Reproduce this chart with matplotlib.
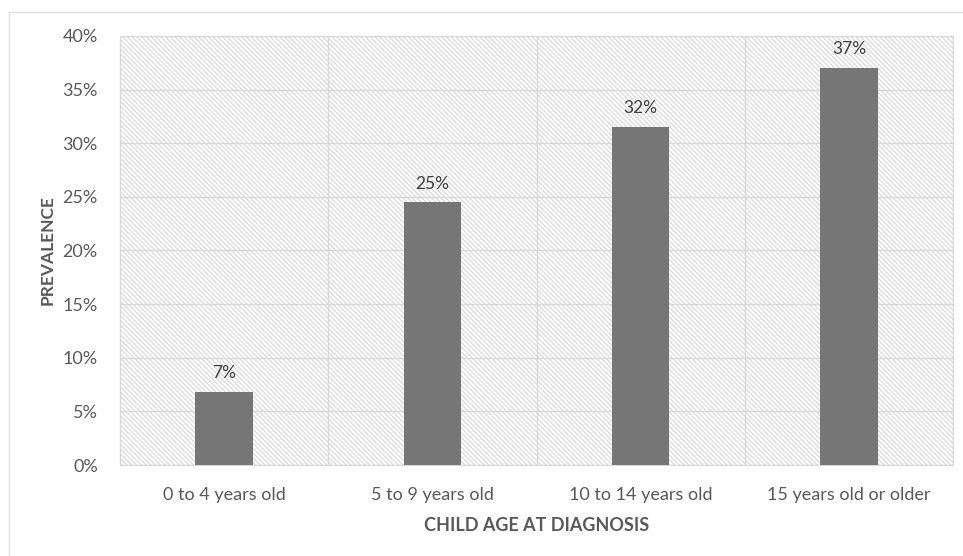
import matplotlib.pyplot as plt
from matplotlib.lines import Line2D

categories = ['0 to 4 years old', '5 to 9 years old', '10 to 14 years old', '15 years old or older']
prevalence = [6.8, 24.5, 31.5, 37.0]
labels = ['7%', '25%', '32%', '37%']
yticks = [0, 5, 10, 15, 20, 25, 30, 35, 40]

plt.rcParams['font.family'] = ['Lato', 'DejaVu Sans']
plt.rcParams['hatch.color'] = '#dadada'
plt.rcParams['hatch.linewidth'] = 0.9

fig = plt.figure(figsize=(9.63, 5.56), dpi=100)
ax = fig.add_axes([120 / 963, 1 - 465 / 556, 833 / 963, 429 / 556])

# hatched plot background
ax.axvspan(-0.5, len(categories) - 0.5, facecolor='white', edgecolor='#dadada',
           hatch='\\' * 7, linewidth=0, zorder=0)

x = range(len(categories))
ax.bar(x, prevalence, width=0.275, color='#767676', zorder=3)
for i, (v, t) in enumerate(zip(prevalence, labels)):
    ax.text(i, v + 1.0, t, ha='center', va='bottom', fontsize=12.5, color='#404040', zorder=4)

ax.set_xlim(-0.5, len(categories) - 0.5)
ax.set_ylim(0, 40)
ax.set_yticks(yticks)
ax.set_yticklabels([f'{v}%' for v in yticks])
ax.set_xticks(list(x))
ax.set_xticklabels(categories)
ax.tick_params(length=0, labelsize=13, labelcolor='#595959')
ax.tick_params(axis='x', pad=16)
ax.tick_params(axis='y', pad=16)

for y in yticks:
    ax.axhline(y, color='#d9d9d9', linewidth=1, zorder=1)
for b in [0.5, 1.5, 2.5, 3.5]:
    ax.axvline(b, color='#d9d9d9', linewidth=1, zorder=1)
for s in ax.spines.values():
    s.set_color('#d9d9d9')

ax.set_ylabel('PREVALENCE', fontsize=12.5, fontweight='bold', color='#595959', labelpad=5)
ax.set_xlabel('CHILD AGE AT DIAGNOSIS', fontsize=13, fontweight='bold', color='#595959', labelpad=10)

# faint chart border
fig.add_artist(Line2D([9 / 963, 9 / 963], [0, 1 - 12 / 556], transform=fig.transFigure, color='#e0e0e0', lw=1))
fig.add_artist(Line2D([9 / 963, 1], [1 - 12 / 556, 1 - 12 / 556], transform=fig.transFigure, color='#e0e0e0', lw=1))

fig.savefig('out.png', dpi=100)
